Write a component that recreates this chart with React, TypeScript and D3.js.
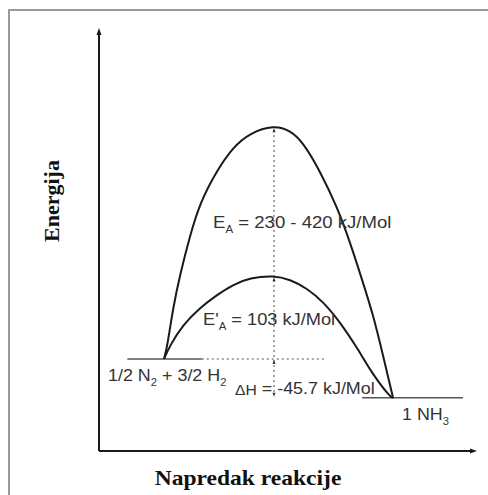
import React from 'react'
import * as d3 from 'd3'

// reaction progress (0..100) and energy (kJ/mol, relative to reactants)
const outerProgress = [17.2, 18.0, 19.6, 21.4, 24.1, 26.7, 31.2, 35.4, 39.9, 46.3, 50.5, 54.0, 58.5, 63.0, 66.4, 69.8, 72.5, 75.1, 77.8]
const outerEnergy = [0, 13, 60, 98, 145, 183, 221, 248, 265, 274, 268, 254, 220, 178, 137, 90, 52, 5, -45.7]
const innerProgress = [17.2, 18.8, 22.2, 26.7, 31.2, 35.4, 39.9, 46.3, 50.5, 55.0, 59.3, 63.8, 68.3, 72.5, 77.0, 77.8]
const innerEnergy = [0, 16, 40, 60, 75, 87, 95, 98, 93, 83, 67, 43, 13, -19, -44.5, -45.7]

const reactantEnergy = 0
const productEnergy = -45.7
const reactantLine = [7.5, 27.2]
const reactantDotted = [27.2, 59.5]
const productLine = [69.6, 96.3]
const peakProgress = 46.3
const outerPeak = 272
const innerPeak = 97

const W = 488
const H = 495

function App() {
  const x = d3.scaleLinear().domain([0, 100]).range([99, 477])
  const y = d3.scaleLinear().domain([-108, 388]).range([451, 28])

  const line = d3.line<[number, number]>()
    .x(d => x(d[0]))
    .y(d => y(d[1]))
    .curve(d3.curveBasis)

  const outer = line(outerProgress.map((p, i) => [p, outerEnergy[i]]))
  const inner = line(innerProgress.map((p, i) => [p, innerEnergy[i]]))

  const px = x(peakProgress)
  const sans = 'Liberation Sans, Arial, sans-serif'
  const serif = 'Liberation Serif, Times New Roman, serif'

  const upArrow = (cx: number, cy: number, s = 3) =>
    `M${cx},${cy} L${cx - s / 2},${cy + s * 1.4} L${cx + s / 2},${cy + s * 1.4} Z`
  const downArrow = (cx: number, cy: number, s = 3) =>
    `M${cx},${cy} L${cx - s / 2},${cy - s * 1.4} L${cx + s / 2},${cy - s * 1.4} Z`

  const x0 = x(0), y0 = y(-108)

  return (
    <svg width={W} height={H} style={{position: 'absolute', left: 0, top: 0, background: '#fff'}}>
      <rect x={9} y={10} width={500} height={500} fill="none" stroke="#9a9a9a" strokeWidth={2} />

      {/* axes */}
      <line x1={x0} y1={y0} x2={x0} y2={y(388) + 4} stroke="#1a1a1a" strokeWidth={2} />
      <path d={upArrow(x0, y(388), 5)} fill="#1a1a1a" />
      <line x1={x0} y1={y0} x2={x(100) - 4} y2={y0} stroke="#1a1a1a" strokeWidth={2} />
      <path d={`M${x(100)},${y0} L${x(100) - 7},${y0 - 2.5} L${x(100) - 7},${y0 + 2.5} Z`} fill="#1a1a1a" />

      {/* energy levels */}
      <line x1={x(reactantLine[0])} x2={x(reactantLine[1])} y1={y(reactantEnergy)} y2={y(reactantEnergy)} stroke="#555" strokeWidth={1.5} />
      <line x1={x(reactantDotted[0])} x2={x(reactantDotted[1])} y1={y(reactantEnergy)} y2={y(reactantEnergy)} stroke="#888" strokeWidth={1.5} strokeDasharray="2,3" />
      <line x1={x(productLine[0])} x2={x(productLine[1])} y1={y(productEnergy)} y2={y(productEnergy)} stroke="#555" strokeWidth={1.5} />

      {/* vertical dotted */}
      <line x1={px} x2={px} y1={y(outerPeak) + 3} y2={y(productEnergy) - 3} stroke="#888" strokeWidth={1.5} strokeDasharray="2,3" />
      <path d={upArrow(px, y(outerPeak) + 1)} fill="#333" />
      <path d={upArrow(px, y(innerPeak) + 1)} fill="#333" />
      <path d={upArrow(px, y(reactantEnergy) + 1)} fill="#333" />
      <path d={downArrow(px, y(productEnergy) - 1)} fill="#333" />

      {/* curves */}
      <path d={outer ?? ''} fill="none" stroke="#1a1a1a" strokeWidth={2} />
      <path d={inner ?? ''} fill="none" stroke="#1a1a1a" strokeWidth={2} />

      {/* labels */}
      <g fontFamily={sans} fill="#333" fontSize={16}>
        <text transform="translate(213,228) scale(1.16,1)">E<tspan fontSize={10} dy={5}>A</tspan><tspan dy={-5}> = 230 - 420 kJ/Mol</tspan></text>
        <text transform="translate(203,325) scale(1.14,1)">E'<tspan fontSize={10} dy={5}>A</tspan><tspan dy={-5}> = 103 kJ/Mol</tspan></text>
        <text transform="translate(108,381) scale(1.12,1)">1/2 N<tspan fontSize={10} dy={5}>2</tspan><tspan dy={-5}> + 3/2 H</tspan><tspan fontSize={10} dy={5}>2</tspan></text>
        <text transform="translate(235,394) scale(1.12,1)"><tspan fontSize={14} dy={1}>ΔH</tspan><tspan dy={-1}> = -45.7 kJ/Mol</tspan></text>
        <text transform="translate(402,420) scale(1.12,1)">1 NH<tspan fontSize={10} dy={5}>3</tspan></text>
      </g>

      <g fontFamily={serif} fontWeight="bold" fill="#111" fontSize={22}>
        <text transform="translate(59,201) rotate(-90)" textAnchor="middle">Energija</text>
        <text transform="translate(248,485) scale(1.07,1)" textAnchor="middle">Napredak reakcije</text>
      </g>
    </svg>
  )
}

export default App
